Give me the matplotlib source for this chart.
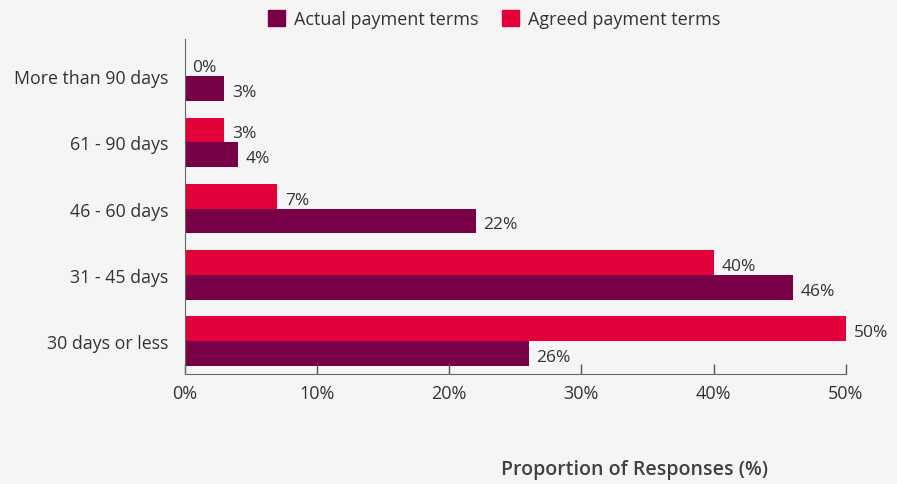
import numpy as np
import matplotlib.pyplot as plt
from matplotlib.patches import Patch

# Payment term buckets, bottom to top
categories = ['30 days or less', '31 - 45 days', '46 - 60 days', '61 - 90 days', 'More than 90 days']
actual = [26, 46, 22, 4, 3]
agreed = [50, 40, 7, 3, 0]
xticks = [0, 10, 20, 30, 40, 50]

c_actual = '#780046'
c_agreed = '#e4003b'
txt = '#333333'
bg = '#f5f5f5'

plt.rcParams['font.family'] = ['Open Sans', 'DejaVu Sans']

fig = plt.figure(figsize=(8.97, 4.85), dpi=100, facecolor=bg)
ax = fig.add_axes([0.206, 0.227, 0.737, 0.69])
ax.set_facecolor(bg)

y = np.arange(len(categories))
h = 0.375
b1 = ax.barh(y - h / 2, actual, height=h, color=c_actual)
b2 = ax.barh(y + h / 2, agreed, height=h, color=c_agreed)

# value labels at bar ends
for bars, vals in ((b1, actual), (b2, agreed)):
    for bar, v in zip(bars, vals):
        ax.annotate(f'{v}%', (v, bar.get_y() + bar.get_height() / 2),
                    xytext=(5.5, -2.5), textcoords='offset points',
                    ha='left', va='center', fontsize=12.5, color=txt)

ax.set_xlim(0, 50)
ax.set_ylim(-0.5, 4.56)
ax.set_xticks(xticks)
ax.set_xticklabels([f'{t}%' for t in xticks])
ax.set_yticks(y)
ax.set_yticklabels(categories)
ax.tick_params(axis='x', direction='in', length=7, width=1, color='#555555',
               labelsize=13, labelcolor=txt, pad=7)
ax.tick_params(axis='y', length=0, labelsize=12.8, labelcolor=txt, pad=12)

for s in ('top', 'right'):
    ax.spines[s].set_visible(False)
ax.spines['left'].set_color('#666666')
ax.spines['bottom'].set_color('#666666')

handles = [Patch(color=c_actual, label='Actual payment terms'),
           Patch(color=c_agreed, label='Agreed payment terms')]
fig.legend(handles=handles, loc='center', bbox_to_anchor=(0.551, 0.958), ncol=2,
           frameon=False, fontsize=13, handlelength=0.95, handleheight=0.95,
           handletextpad=0.5, columnspacing=1.3, labelcolor=txt)

fig.text(0.707, 0.03, 'Proportion of Responses (%)', ha='center', va='center',
         fontsize=14, fontweight='semibold', color='#404040')

fig.savefig('out.png', dpi=100, facecolor=bg)
